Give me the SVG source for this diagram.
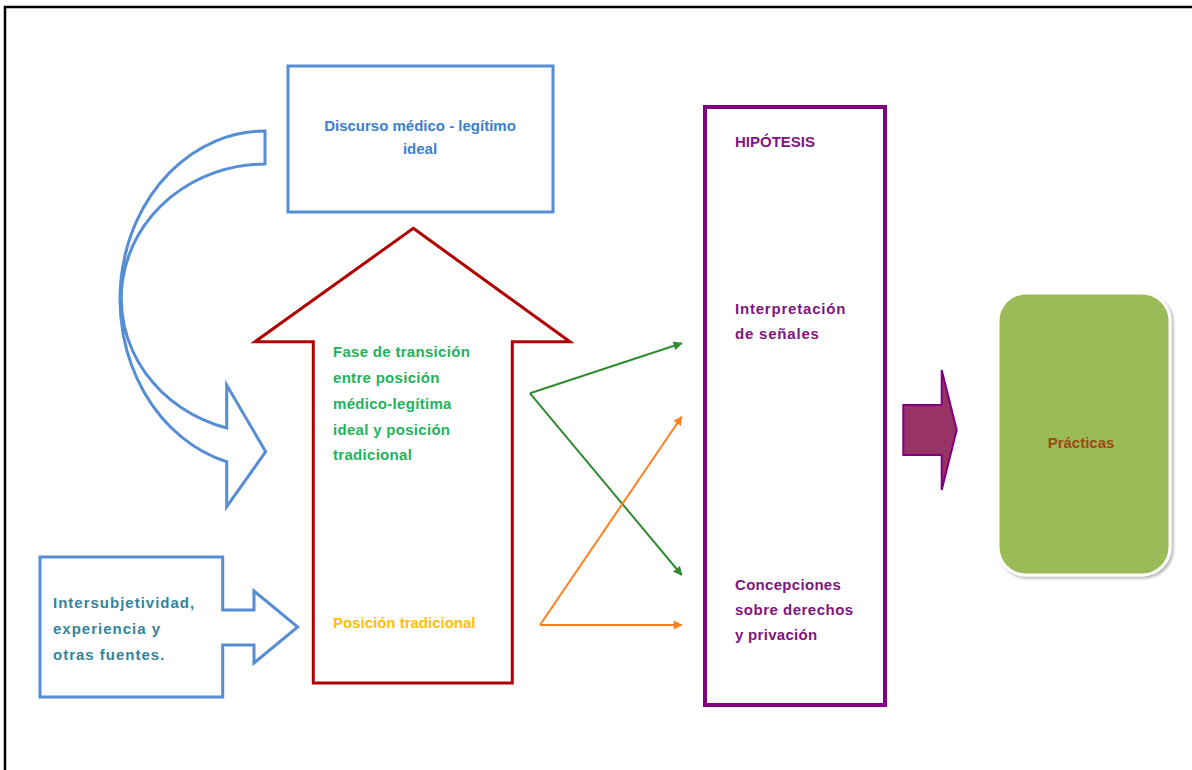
<svg xmlns="http://www.w3.org/2000/svg" width="1192" height="770" viewBox="0 0 1192 770">
<defs>
<style>
text{font-family:"Liberation Sans",Arial,sans-serif;font-weight:bold;font-size:15px}
.blue{fill:none;stroke:#558ED5;stroke-width:3;stroke-linejoin:miter}
.tblue{fill:#3A7FD0}
.tgreen{fill:#1EB45A;letter-spacing:0.3px}
.torange{fill:#FFC000}
.tteal{fill:#31859C;letter-spacing:1px}
.tpurple{fill:#7F1482}
.conn{fill:none;stroke-width:2}
</style>
<marker id="ag" viewBox="0 0 10 10" refX="9" refY="5" markerWidth="10" markerHeight="9" markerUnits="userSpaceOnUse" orient="auto"><path d="M0,0 L10,5 L0,10 Z" fill="#2E8B2E"/></marker>
<marker id="ao" viewBox="0 0 10 10" refX="9" refY="5" markerWidth="10" markerHeight="9" markerUnits="userSpaceOnUse" orient="auto"><path d="M0,0 L10,5 L0,10 Z" fill="#FF7F1E"/></marker>
<filter id="sh" x="-10%" y="-10%" width="120%" height="120%"><feDropShadow dx="2" dy="2" stdDeviation="1.5" flood-color="#000" flood-opacity="0.3"/></filter>
</defs>
<rect width="1192" height="770" fill="#fff"/>
<path d="M5,770 L5,7 L1192,7" fill="none" stroke="#000" stroke-width="2.5"/>

<g id="curved-arrow">
<path class="blue" d="M265,131 A145,168.34 0 0 0 226.7,461.7 L226.7,506.7 L265.7,451.7 L226.7,385 L226.7,428 A144.5,134.5 0 0 1 265,164 Z"/>
</g>

<g id="discurso">
<rect x="288" y="66" width="265" height="146" class="blue"/>
<text class="tblue" x="420" y="131" text-anchor="middle">Discurso médico - legítimo</text>
<text class="tblue" x="420" y="154" text-anchor="middle">ideal</text>
</g>

<g id="transicion">
<path d="M413.3,228.3 L570,341.7 L512.3,341.7 L512.3,683 L313.3,683 L313.3,341.7 L255,341.7 Z" fill="none" stroke="#B00000" stroke-width="3"/>
<text class="tgreen" x="333" y="357">Fase de transición</text>
<text class="tgreen" x="333" y="383">entre posición</text>
<text class="tgreen" x="333" y="409">médico-legítima</text>
<text class="tgreen" x="333" y="435">ideal y posición</text>
<text class="tgreen" x="333" y="460">tradicional</text>
<text class="torange" x="333" y="628">Posición tradicional</text>
</g>

<g id="intersubjetividad">
<path class="blue" d="M40,557 L222.7,557 L222.7,610 L254,610 L254,591 L297.7,627 L254,663 L254,645 L222.7,645 L222.7,697 L40,697 Z"/>
<text class="tteal" x="53" y="608">Intersubjetividad,</text>
<text class="tteal" x="53" y="634">experiencia  y</text>
<text class="tteal" x="53" y="660">otras fuentes.</text>
</g>

<g id="hipotesis">
<rect x="705" y="107" width="180" height="598" fill="none" stroke="#800080" stroke-width="4"/>
<text class="tpurple" x="735" y="147">HIPÓTESIS</text>
<text class="tpurple" x="735" y="314" style="letter-spacing:0.8px">Interpretación</text>
<text class="tpurple" x="735" y="339" style="letter-spacing:0.8px">de señales</text>
<text class="tpurple" x="735" y="590" style="letter-spacing:0.3px">Concepciones</text>
<text class="tpurple" x="735" y="615" style="letter-spacing:0.5px">sobre derechos</text>
<text class="tpurple" x="735" y="640" style="letter-spacing:0.3px">y privación</text>
</g>

<g id="flecha-practicas">
<path d="M903.3,405 L941.7,405 L941.7,370 L956.7,430 L941.7,490 L941.7,455 L903.3,455 Z" fill="#993366" stroke="#7F007F" stroke-width="2"/>
</g>

<g id="practicas">
<rect x="998" y="293" width="172" height="282" rx="28" ry="28" fill="#9BBB59" stroke="#fff" stroke-width="3" filter="url(#sh)"/>
<text x="1081" y="448" text-anchor="middle" fill="#9C4A10">Prácticas</text>
</g>

<g id="connectors">
<path class="conn" stroke="#2E8B2E" d="M530,393.3 L681.7,343.3" marker-end="url(#ag)"/>
<path class="conn" stroke="#2E8B2E" d="M530,393.3 L681.7,575" marker-end="url(#ag)"/>
<path class="conn" stroke="#FF7F1E" d="M540,625 L681.7,416.7" marker-end="url(#ao)"/>
<path class="conn" stroke="#FF7F1E" d="M540,625 L681.7,625" marker-end="url(#ao)"/>
</g>
</svg>
